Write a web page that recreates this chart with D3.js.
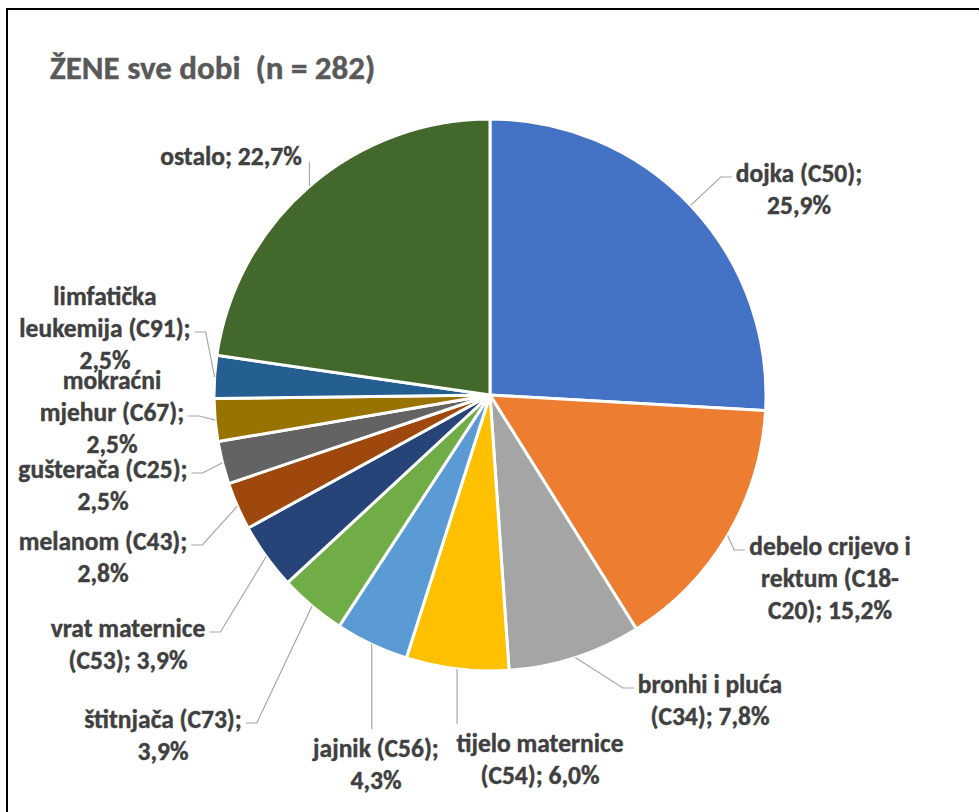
<!DOCTYPE html>
<html>
<head>
<meta charset="utf-8">
<script src="https://cdn.jsdelivr.net/npm/d3@7"></script>
<style>
  html, body { margin: 0; padding: 0; background: #fff; }
  svg { display: block; }
  text { font-family: Carlito, Lato, "Open Sans", sans-serif; font-weight: bold; }
</style>
</head>
<body>
<svg id="chart" width="979" height="812"></svg>
<script>
// ---- data ----
const title = "ŽENE sve dobi  (n = 282)";
const categories = [
  "dojka (C50)", "debelo crijevo i rektum (C18-C20)", "bronhi i pluća (C34)",
  "tijelo maternice (C54)", "jajnik (C56)", "štitnjača (C73)", "vrat maternice (C53)",
  "melanom (C43)", "gušterača (C25)", "mokraćni mjehur (C67)",
  "limfatička leukemija (C91)", "ostalo"
];
const values = [25.9, 15.2, 7.8, 6.0, 4.3, 3.9, 3.9, 2.8, 2.5, 2.5, 2.5, 22.7];
const labelLines = [
  ["dojka (C50);", "25,9%"],
  ["debelo crijevo i", "rektum (C18-", "C20); 15,2%"],
  ["bronhi i pluća", "(C34); 7,8%"],
  ["tijelo maternice", "(C54); 6,0%"],
  ["jajnik (C56);", "4,3%"],
  ["štitnjača (C73);", "3,9%"],
  ["vrat maternice", "(C53); 3,9%"],
  ["melanom (C43);", "2,8%"],
  ["gušterača (C25);", "2,5%"],
  ["mokraćni", "mjehur (C67);", "2,5%"],
  ["limfatička", "leukemija (C91);", "2,5%"],
  ["ostalo; 22,7%"]
];
const colors = ["#4472C4", "#ED7D31", "#A5A5A5", "#FFC000", "#5B9BD5", "#70AD47",
                "#264478", "#9E480E", "#636363", "#997300", "#255E91", "#43682B"];

// ---- layout (label placement) ----
const labelLayout = [
  {cx: 799, y0: 173, kind: "right", line: 0},
  {cx: 830, y0: 546, kind: "right", line: 0},
  {cx: 710, y0: 684, kind: "right", line: 0},
  {cx: 540, y0: 743, kind: "down"},
  {cx: 376, y0: 748, kind: "down"},
  {cx: 163, y0: 719, kind: "left", line: 0},
  {cx: 128, y0: 628, kind: "left", line: 0},
  {cx: 103, y0: 541, kind: "left", line: 0},
  {cx: 103, y0: 469, kind: "left", line: 0},
  {cx: 112, y0: 380, kind: "left", line: 1},
  {cx: 105, y0: 296, kind: "left", line: 1},
  {cx: 231, y0: 156, kind: "up"}
];
const lineHeight = 32;
const labelSize = 25.5;

const svg = d3.select("#chart");
const W = 979, H = 812;
const cx = 490, cy = 395, R = 276;

// chart border
svg.append("rect").attr("x", 7).attr("y", 9).attr("width", W + 20).attr("height", H + 20)
  .attr("fill", "none").attr("stroke", "#000").attr("stroke-width", 2);

// title
svg.append("text").attr("x", 50).attr("y", 68).attr("dominant-baseline", "central")
  .style("white-space", "pre").attr("fill", "#595959").attr("font-size", 33)
  .attr("stroke", "#595959").attr("stroke-width", 0.4).text(title);

const pie = d3.pie().sort(null).value(d => d)(values);
const arc = d3.arc().innerRadius(0).outerRadius(R);

const g = svg.append("g").attr("transform", `translate(${cx},${cy})`);
g.selectAll("path").data(pie).join("path")
  .attr("d", arc).attr("fill", (d, i) => colors[i])
  .attr("stroke", "#fff").attr("stroke-width", 3).attr("stroke-linejoin", "round");

// labels
const lg = svg.append("g");
const leaders = svg.append("g");
pie.forEach((d, i) => {
  const L = labelLayout[i];
  const t = lg.append("text").attr("text-anchor", "middle").attr("fill", "#404040")
    .attr("stroke", "#404040").attr("stroke-width", 0.4).attr("font-size", labelSize);
  const tspans = labelLines[i].map((s, k) =>
    t.append("tspan").attr("x", L.cx).attr("y", L.y0 + k * lineHeight)
      .attr("dominant-baseline", "central").text(s));
  const mid = (d.startAngle + d.endAngle) / 2;
  const ex = cx + R * Math.sin(mid), ey = cy - R * Math.cos(mid);
  let pts;
  if (L.kind === "right" || L.kind === "left") {
    const bb = tspans[L.line].node().getBBox();
    const ay = L.y0 + L.line * lineHeight + 4;
    if (L.kind === "right") {
      const endX = bb.x - 4;
      pts = [[ex, ey], [endX - 11, ay], [endX, ay]];
    } else {
      const endX = bb.x + bb.width + 4;
      pts = [[ex, ey], [endX + 11, ay], [endX, ay]];
    }
  } else if (L.kind === "down") {
    pts = [[ex, ey], [ex, L.y0 - 19]];
  } else {
    pts = [[ex, ey], [ex, L.y0 + 6]];
  }
  leaders.append("path").attr("d", d3.line()(pts))
    .attr("fill", "none").attr("stroke", "#A6A6A6").attr("stroke-width", 1.2);
});
</script>
</body>
</html>
